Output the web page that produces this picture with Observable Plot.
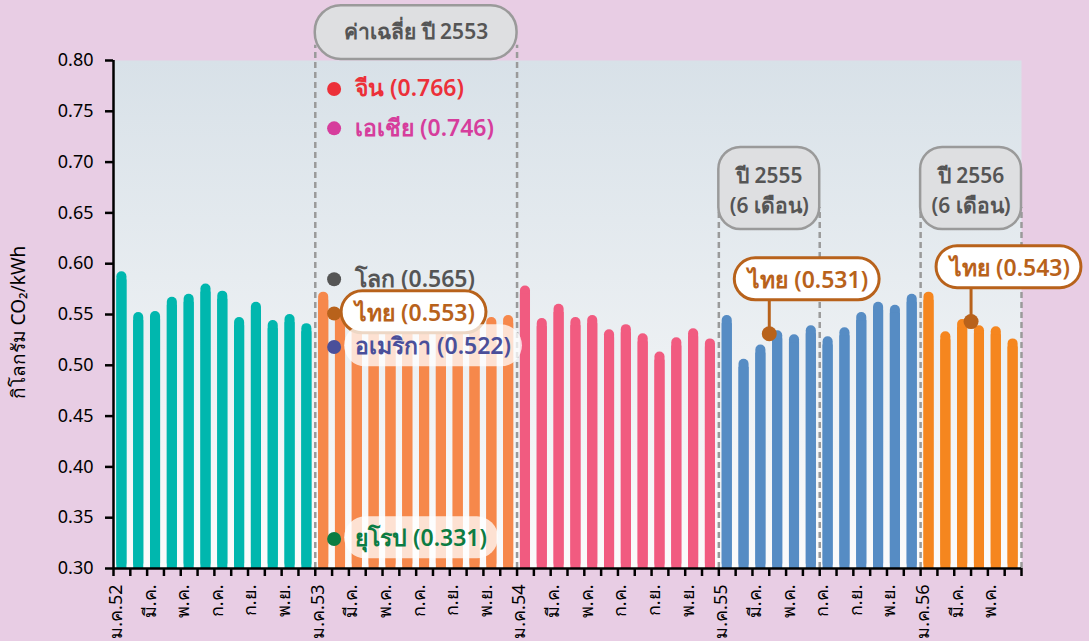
<!DOCTYPE html>
<html><head><meta charset="utf-8">
<script src="https://cdn.jsdelivr.net/npm/d3@7"></script>
<script src="https://cdn.jsdelivr.net/npm/@observablehq/plot@0.6"></script>
<style>
body{margin:0;background:#e8cde4;}
#chart svg{display:block;}
</style>
</head><body>
<div id="chart"></div>
<script>
// ---- data ----
const years = ["2552", "2553", "2554", "2555", "2556"];
const yearColors = ["#00b7ae", "#f6884b", "#f15b80", "#568cc4", "#f5861f"];
const monthAbbr = ["ม.ค.", "ก.พ.", "มี.ค.", "เม.ย.", "พ.ค.", "มิ.ย.", "ก.ค.", "ส.ค.", "ก.ย.", "ต.ค.", "พ.ย.", "ธ.ค."];
const v2552 = [0.592, 0.552, 0.553, 0.567, 0.570, 0.580, 0.573, 0.547, 0.562, 0.544, 0.550, 0.541];
const v2553 = [0.572, 0.555, 0.548, 0.556, 0.552, 0.560, 0.550, 0.545, 0.553, 0.548, 0.547, 0.549];
const v2554 = [0.578, 0.546, 0.560, 0.547, 0.549, 0.535, 0.540, 0.531, 0.513, 0.527, 0.536, 0.526];
const v2555 = [0.549, 0.506, 0.520, 0.534, 0.530, 0.539, 0.528, 0.537, 0.552, 0.562, 0.559, 0.570];
const v2556 = [0.572, 0.533, 0.545, 0.539, 0.538, 0.526];
const yTicks = [0.30, 0.35, 0.40, 0.45, 0.50, 0.55, 0.60, 0.65, 0.70, 0.75, 0.80];

const avgTitle = "ค่าเฉลี่ย ปี 2553";
const avgRegions = ["จีน", "เอเชีย", "โลก", "ไทย", "อเมริกา", "ยุโรป"];
const avgValues = [0.766, 0.746, 0.565, 0.553, 0.522, 0.331];
const avgColors = ["#ec3039", "#d63d9c", "#555555", "#b8621b", "#4a4f9a", "#0c7c43"];

const halfYears = ["2555", "2556"];
const halfTitles = ["ปี 2555\n(6 เดือน)", "ปี 2556\n(6 เดือน)"];
const thaiHalfValues = [0.531, 0.543];
const thaiLabel = "ไทย";
const yLabel = "กิโลกรัม CO₂/kWh";

// ---- derived table ----
const series = [v2552, v2553, v2554, v2555, v2556];
let idx = 0;
const rows = years.flatMap((y, k) => series[k].map((v, m) => ({i: idx++, year: y, month: m, v})));
const n = rows.length;
const firstIndex = y => rows.find(r => r.year === y).i;
const tickLabels = rows.filter(r => r.month % 2 === 0)
  .map(r => ({i: r.i, label: r.month === 0 ? monthAbbr[0] + r.year.slice(2) : monthAbbr[r.month]}));
const boundaries = d3.range(n + 1).map(i => i - 0.5);

const s2553 = firstIndex("2553");
const fullSections = [{x1: s2553 - 0.5, x2: s2553 + 11.5, title: avgTitle}];
const halfSections = halfYears.map((y, k) => {
  const s = firstIndex(y);
  return {x1: s - 0.5, x2: s + 5.5, title: halfTitles[k], cx: s + 2.5, v: thaiHalfValues[k]};
});
const dashedFull = fullSections.flatMap(s => [s.x1, s.x2]);
const dashedHalf = halfSections.flatMap(s => [s.x1, s.x2]);

// legend of 2553 averages (small nudges keep labels apart)
const nudge = [-6, 13, -20, 2, 4, 2];
const legend = avgRegions.map((r, k) => ({
  region: r, v: avgValues[k], color: avgColors[k], dy: nudge[k], x: s2553 + 0.62,
  text: `${r} (${avgValues[k].toFixed(3)})`, box: k === 3 ? "strong" : (k >= 4 ? "soft" : "none")
}));

const brown = "#b8621b";
const font = "Noto Sans, sans-serif";

const defs = () => {
  const d = d3.create("svg:defs");
  const g = d.append("linearGradient").attr("id", "bggrad").attr("x1", 0).attr("y1", 0).attr("x2", 0).attr("y2", 1);
  g.append("stop").attr("offset", "0%").attr("stop-color", "#d8e1e8");
  g.append("stop").attr("offset", "100%").attr("stop-color", "#fbfbfb");
  return d.node();
};

const legendMarks = legend.map(L => [
  Plot.text([L], {x: "x", y: "v", text: "text", fill: "color", dy: L.dy, dx: 21, textAnchor: "start",
    fontSize: 23, fontWeight: 600, ariaDescription: "lbl-" + L.box}),
  Plot.dot([L], {x: "x", y: "v", r: 7, fill: "color", dy: L.dy})
]).flat();

const chart = Plot.plot({
  width: 1089, height: 641,
  marginLeft: 113, marginRight: 68, marginTop: 60, marginBottom: 73,
  style: {background: "#e8cde4", fontFamily: font, overflow: "visible"},
  x: {type: "linear", domain: [-0.5, n - 0.5], axis: null},
  y: {domain: [0.3, 0.8], axis: null},
  color: {domain: years, range: yearColors},
  marks: [
    defs,
    Plot.frame({fill: "url(#bggrad)", stroke: null}),
    // bars: rounded top + square bottom
    Plot.rectY(rows, {x1: d => d.i - 0.3, x2: d => d.i + 0.3, y1: 0.3, y2: "v", fill: "year", rx: 5}),
    Plot.rectY(rows, {x1: d => d.i - 0.3, x2: d => d.i + 0.3, y1: 0.3, y2: d => d.v - 0.008, fill: "year"}),
    // dashed section borders
    Plot.ruleX(dashedFull, {y1: 0.3, y2: 0.815, stroke: "#9a9a9a", strokeWidth: 2.5, strokeDasharray: "6,4"}),
    Plot.ruleX(dashedHalf, {y1: 0.3, y2: 0.655, stroke: "#9a9a9a", strokeWidth: 2.5, strokeDasharray: "6,4"}),
    // section title boxes
    Plot.rect(fullSections, {x1: "x1", x2: "x2", y1: 0.801, y2: 0.854, rx: 26, fill: "#dedfe1", stroke: "#9a9a9a", strokeWidth: 2.5}),
    Plot.text(fullSections, {x: d => (d.x1 + d.x2) / 2, y: 0.8275, text: "title", fontSize: 21, fontWeight: 600, fill: "#555"}),
    Plot.rect(halfSections, {x1: "x1", x2: "x2", y1: 0.6337, y2: 0.7144, rx: 22, fill: "#dedfe1", stroke: "#9a9a9a", strokeWidth: 2.5}),
    Plot.text(halfSections, {x: d => (d.x1 + d.x2) / 2, y: 0.674, text: "title", fontSize: 21, fontWeight: 600, fill: "#555", lineHeight: 1.4}),
    // Thai half-year callouts
    Plot.ruleX(halfSections, {x: "cx", y1: "v", y2: d => d.v + 0.035, stroke: brown, strokeWidth: 3}),
    Plot.dot(halfSections, {x: "cx", y: "v", r: 7.5, fill: brown}),
    Plot.text(halfSections, {x: "cx", y: d => d.v + 0.0525, text: d => `${thaiLabel} (${d.v.toFixed(3)})`, dx: -21, textAnchor: "start",
      fontSize: 23, fontWeight: 600, fill: brown, ariaDescription: "lbl-strong"}),
    // 2553 averages legend
    ...legendMarks,
    // axes
    Plot.ruleY([0.3], {stroke: "black", strokeWidth: 2.5}),
    Plot.ruleX([-0.5], {y1: 0.3, y2: 0.8, stroke: "black", strokeWidth: 2.5}),
    Plot.axisY(yTicks, {tickSize: 8, tickPadding: 12, tickFormat: d3.format(".2f"), fontSize: 18, strokeWidth: 2.5, fill: "black", label: null}),
    Plot.axisX(boundaries, {tickSize: 8, tickFormat: () => "", strokeWidth: 2.5, label: null}),
    Plot.text(tickLabels, {x: "i", frameAnchor: "bottom", dy: 16, rotate: -90, textAnchor: "end", text: "label", fontSize: 18, fill: "black"}),
    Plot.text([yLabel], {frameAnchor: "left", dx: -95, dy: 8, rotate: -90, textAnchor: "middle", fontSize: 19, fill: "black"})
  ]
});

document.getElementById("chart").append(chart);

// rounded backgrounds behind selected labels
function boxes(sel, fill, fillOpacity, stroke) {
  chart.querySelectorAll(`g[aria-description="${sel}"] text`).forEach(t => {
    const b = t.getBBox();
    const padX = 11, padY = 5;
    const h = b.height + 2 * padY;
    const r = document.createElementNS("http://www.w3.org/2000/svg", "rect");
    r.setAttribute("x", b.x - padX);
    r.setAttribute("y", b.y - padY);
    r.setAttribute("width", b.width + 2 * padX);
    r.setAttribute("height", h);
    r.setAttribute("rx", h / 2);
    r.setAttribute("fill", fill);
    r.setAttribute("fill-opacity", fillOpacity);
    if (stroke) { r.setAttribute("stroke", stroke); r.setAttribute("stroke-width", 3); }
    const tr = t.getAttribute("transform");
    if (tr) r.setAttribute("transform", tr);
    t.parentNode.insertBefore(r, t);
  });
}
boxes("lbl-strong", "white", 1, brown);
boxes("lbl-soft", "white", 0.75, null);
</script>
</body></html>
